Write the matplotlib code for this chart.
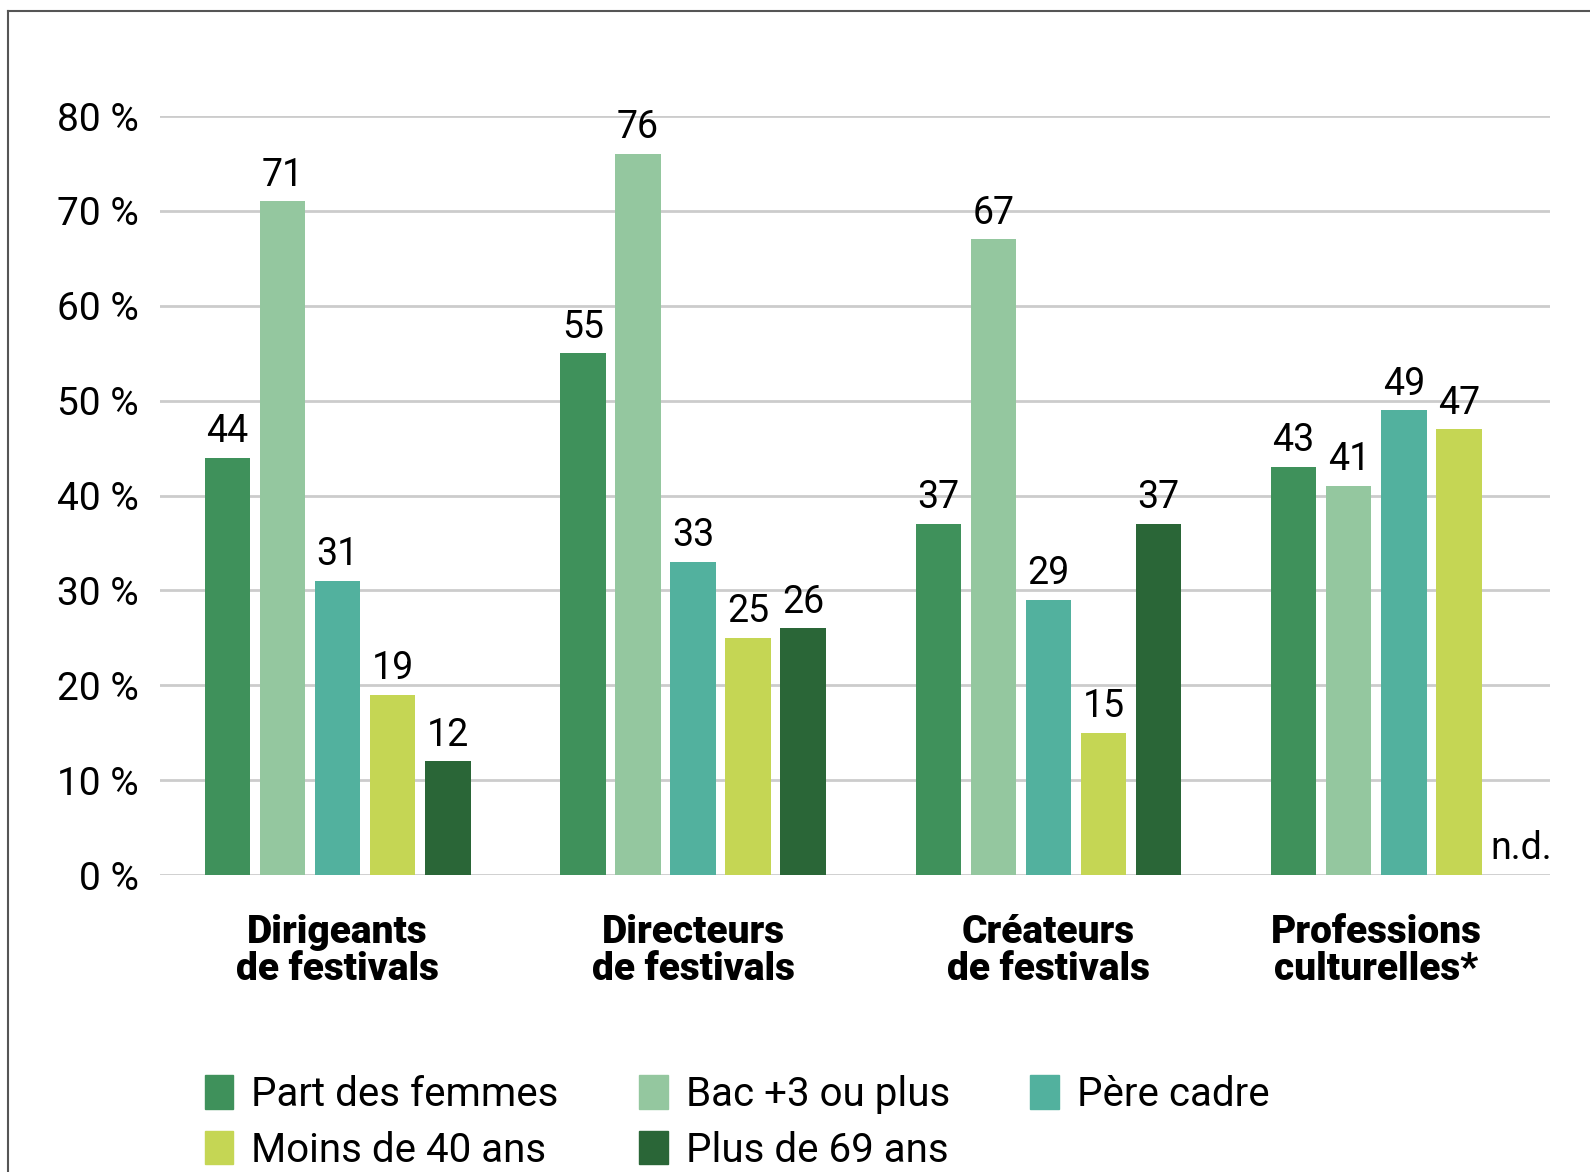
import numpy as np
import matplotlib.pyplot as plt
from matplotlib.lines import Line2D
from matplotlib.patches import Patch

groups = ["Dirigeants\nde festivals", "Directeurs\nde festivals",
          "Créateurs\nde festivals", "Professions\nculturelles*"]
series = ["Part des femmes", "Bac +3 ou plus", "Père cadre",
          "Moins de 40 ans", "Plus de 69 ans"]
femmes = [44, 55, 37, 43]
bac3 = [71, 76, 67, 41]
pere_cadre = [31, 33, 29, 49]
moins40 = [19, 25, 15, 47]
plus69 = [12, 26, 37, None]   # n.d. for professions culturelles
colors = ["#3f915b", "#94c79f", "#52b19e", "#c5d654", "#2a6637"]
yticks = [0, 10, 20, 30, 40, 50, 60, 70, 80]

plt.rcParams['font.family'] = ['Roboto', 'DejaVu Sans']

fig = plt.figure(figsize=(15.9, 11.72), dpi=100)
ax = fig.add_axes([0.1006, 0.2534, 0.8744, 0.6476])

x = np.arange(len(groups))
step = 0.155
width = 0.128
values = [femmes, bac3, pere_cadre, moins40, plus69]
present = [[] for _ in groups]
for i, (vals, col) in enumerate(zip(values, colors)):
    pos = x + (i - 2) * step
    for g, (xp, v) in enumerate(zip(pos, vals)):
        if v is None:
            ax.text(xp + 0.02, 0.8, "n.d.", ha="center", va="bottom", fontsize=27)
            continue
        present[g].append(xp)
        ax.bar(xp, v, width, color=col, zorder=3)
        ax.text(xp, v + 0.8, str(v), ha="center", va="bottom", fontsize=27)

ax.set_ylim(0, 80)
ax.set_xlim(-0.5, 3.412)
ax.set_yticks(yticks)
ax.set_yticklabels([f"{t} %" for t in yticks], fontsize=28)
ax.set_xticks([np.mean(p) for p in present])
ax.set_xticklabels(groups, fontsize=28, fontweight="heavy", linespacing=1.0)
ax.tick_params(length=0, axis="y", pad=15)
ax.tick_params(length=0, axis="x", pad=28)
ax.grid(axis="y", color="#cccccc", lw=2, zorder=0)
for s in ax.spines.values():
    s.set_visible(False)

handles = [Patch(color=colors[k], label=series[k]) for k in [0, 3, 1, 4, 2]]
fig.legend(handles=handles, loc="upper left", bbox_to_anchor=(0.129, 0.083),
           ncol=3, frameon=False, fontsize=29, handlelength=0.7,
           handleheight=0.9, handletextpad=0.45, columnspacing=2.0,
           labelspacing=0.42, borderaxespad=0, borderpad=0)

# frame lines of the original cut-out
fig.add_artist(Line2D([0.005, 1], [0.991, 0.991], color="#555555", lw=1.5))
fig.add_artist(Line2D([0.005, 0.005], [0, 0.991], color="#555555", lw=1.5))

fig.savefig("out.png", dpi=100)
